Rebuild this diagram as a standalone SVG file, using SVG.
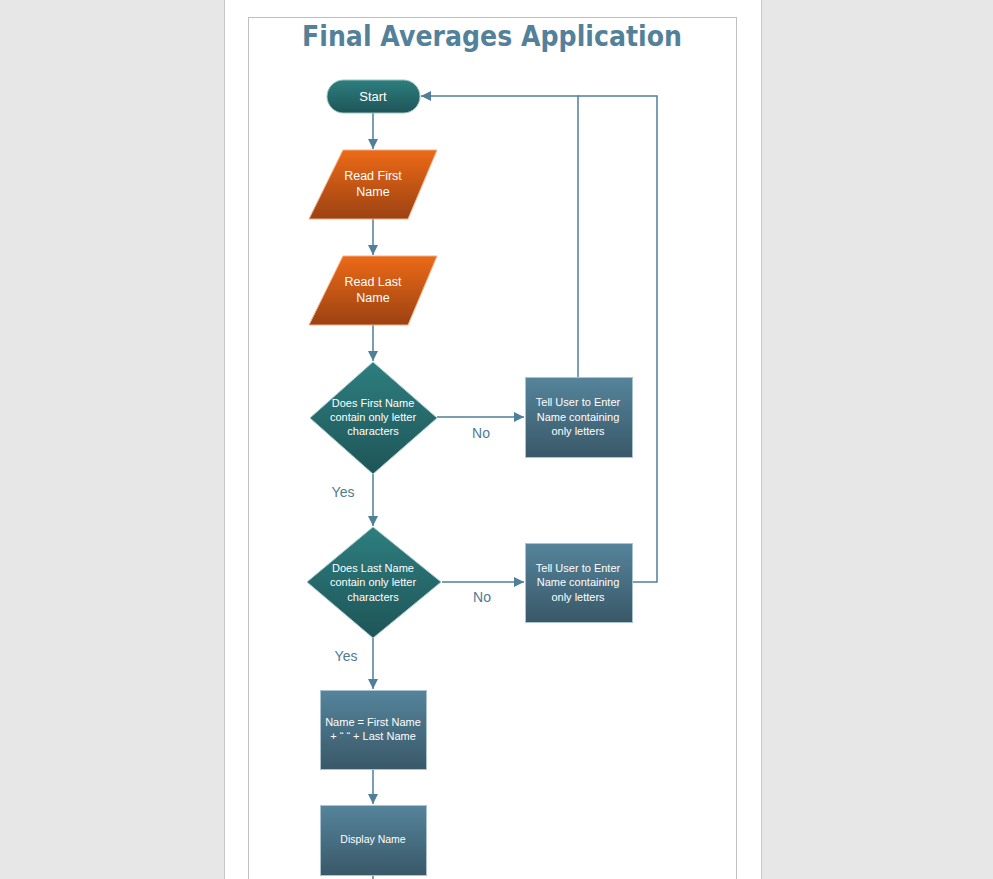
<svg xmlns="http://www.w3.org/2000/svg" width="993" height="879" viewBox="0 0 993 879">
<defs>
<linearGradient id="gTeal" x1="0" y1="0" x2="0" y2="1"><stop offset="0" stop-color="#2e7e7f"/><stop offset="1" stop-color="#1e5558"/></linearGradient>
<linearGradient id="gOrange" x1="0" y1="0" x2="0" y2="1"><stop offset="0" stop-color="#ec6a17"/><stop offset="1" stop-color="#9c4212"/></linearGradient>
<linearGradient id="gBlue" x1="0" y1="0" x2="0" y2="1"><stop offset="0" stop-color="#55849b"/><stop offset="1" stop-color="#395868"/></linearGradient>
<marker id="arr" viewBox="0 0 10 10" refX="10" refY="5" markerWidth="10" markerHeight="10" markerUnits="userSpaceOnUse" orient="auto"><path d="M0,0 L10,5 L0,10 z" fill="#4f7f99"/></marker>
<style>
.conn{fill:none;stroke:#4f7f99;stroke-width:1.5}
.nt{font-family:"Liberation Sans",Arial,sans-serif;font-size:11px;fill:#ffffff;text-anchor:middle}
.big{font-size:12.5px}
.st{font-size:13px}
.lbl{font-family:"Liberation Sans",Arial,sans-serif;font-size:14px;fill:#4f7a92;text-anchor:middle}
.teal{fill:url(#gTeal);stroke:#9ec4c4;stroke-width:1}
.org{fill:url(#gOrange);stroke:#f2b08a;stroke-width:1}
.blue{fill:url(#gBlue);stroke:#a9c3d0;stroke-width:1}
</style>
</defs>
<rect x="0" y="0" width="993" height="879" fill="#e7e7e7"/>
<rect x="224.5" y="-1" width="537" height="881" fill="#ffffff" stroke="#c6c6c6"/>
<rect x="248.5" y="17.5" width="488" height="870" fill="none" stroke="#bfbfbf"/>
<text x="492" y="46" font-family="'DejaVu Sans','Liberation Sans',sans-serif" font-weight="bold" font-size="29" fill="#53819a" text-anchor="middle" textLength="380" lengthAdjust="spacingAndGlyphs">Final Averages Application</text>
<g id="connectors">
<line class="conn" x1="373" y1="113" x2="373" y2="149" marker-end="url(#arr)"/>
<line class="conn" x1="373" y1="219" x2="373" y2="255" marker-end="url(#arr)"/>
<line class="conn" x1="373" y1="325" x2="373" y2="361" marker-end="url(#arr)"/>
<line class="conn" x1="437" y1="417" x2="524" y2="417" marker-end="url(#arr)"/>
<line class="conn" x1="373" y1="474" x2="373" y2="526" marker-end="url(#arr)"/>
<line class="conn" x1="442" y1="582" x2="524" y2="582" marker-end="url(#arr)"/>
<line class="conn" x1="373" y1="638" x2="373" y2="689" marker-end="url(#arr)"/>
<line class="conn" x1="373" y1="769" x2="373" y2="804" marker-end="url(#arr)"/>
<line class="conn" x1="373" y1="875" x2="373" y2="880"/>
<polyline class="conn" points="578,377 578,96 421,96" marker-end="url(#arr)"/>
<polyline class="conn" points="632,582 657,582 657,96 578,96"/>
<text class="lbl" x="481" y="438">No</text>
<text class="lbl" x="343" y="497">Yes</text>
<text class="lbl" x="482" y="602">No</text>
<text class="lbl" x="346" y="661">Yes</text>
</g>
<g id="start">
<rect class="teal" x="327" y="80" width="93" height="33" rx="16.5"/>
<text class="nt st" x="373" y="100.5">Start</text>
</g>
<g id="readFirst">
<polygon class="org" points="343,150 437,150 408,219 309,219"/>
<text class="nt big" x="373" y="180">Read First</text>
<text class="nt big" x="373" y="196">Name</text>
</g>
<g id="readLast">
<polygon class="org" points="343,256 437,256 408,325 309,325"/>
<text class="nt big" x="373" y="286">Read Last</text>
<text class="nt big" x="373" y="302">Name</text>
</g>
<g id="checkFirst">
<polygon class="teal" points="373,362 437,418 373,474 310,418"/>
<text class="nt" x="373" y="407">Does First Name</text>
<text class="nt" x="373" y="421">contain only letter</text>
<text class="nt" x="373" y="435">characters</text>
</g>
<g id="tellFirst">
<rect class="blue" x="525.5" y="377.5" width="107" height="80"/>
<text class="nt" x="578" y="406">Tell User to Enter</text>
<text class="nt" x="578" y="421">Name containing</text>
<text class="nt" x="578" y="435">only letters</text>
</g>
<g id="checkLast">
<polygon class="teal" points="373,527 441,582 373,638 307,582"/>
<text class="nt" x="373" y="572">Does Last Name</text>
<text class="nt" x="373" y="586">contain only letter</text>
<text class="nt" x="373" y="601">characters</text>
</g>
<g id="tellLast">
<rect class="blue" x="525.5" y="543.5" width="107" height="79"/>
<text class="nt" x="578" y="572">Tell User to Enter</text>
<text class="nt" x="578" y="586">Name containing</text>
<text class="nt" x="578" y="601">only letters</text>
</g>
<g id="concat">
<rect class="blue" x="320.5" y="690.5" width="106" height="79"/>
<text class="nt" x="373" y="726">Name = First Name</text>
<text class="nt" x="373" y="740">+ “ “ + Last Name</text>
</g>
<g id="display">
<rect class="blue" x="320.5" y="805.5" width="106" height="70"/>
<text class="nt" x="373" y="843" style="font-size:10.5px">Display Name</text>
</g>
</svg>
